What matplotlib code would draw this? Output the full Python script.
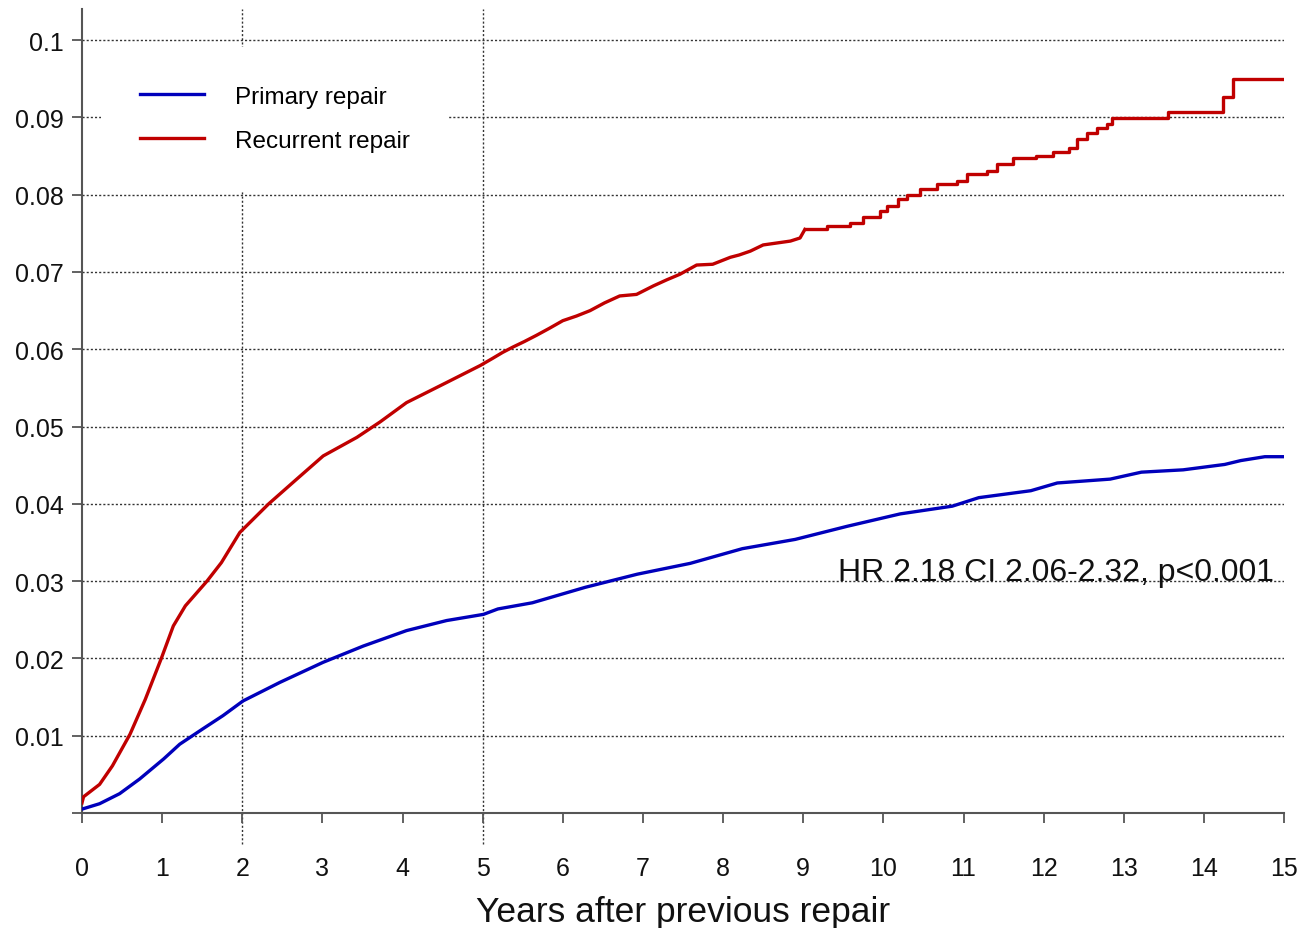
"""Cumulative incidence after previous repair: primary vs recurrent (KM-style curves)."""
import numpy as np
import matplotlib
matplotlib.use("Agg")
import matplotlib.pyplot as plt

plt.rcParams["font.family"] = ["Liberation Sans", "DejaVu Sans"]

# values (years, cumulative proportion)
prim_t = [0.0, 0.22, 0.47, 0.72, 1.02, 1.22, 1.51, 1.76, 2.01, 2.47, 3.01, 3.51,
          4.05, 4.55, 5.01, 5.19, 5.62, 6.28, 6.93, 7.59, 8.24, 8.90, 9.55,
          10.21, 10.86, 11.19, 11.84, 12.17, 12.83, 13.22, 13.74, 14.26, 14.46,
          14.76, 15.0]
prim_y = [0.0005, 0.0012, 0.0025, 0.0044, 0.0070, 0.0089, 0.0109, 0.0126,
          0.0145, 0.0169, 0.0195, 0.0216, 0.0236, 0.0249, 0.0257, 0.0264,
          0.0272, 0.0292, 0.0309, 0.0323, 0.0342, 0.0354, 0.0371, 0.0387,
          0.0397, 0.0408, 0.0417, 0.0427, 0.0432, 0.0441, 0.0444, 0.0451,
          0.0456, 0.0461, 0.0461]

# dense early part drawn as a line, sparse later part as KM steps
rec_t_early = [0.0, 0.02, 0.22, 0.38, 0.60, 0.79, 0.99, 1.14, 1.29, 1.56, 1.74,
               1.97, 2.33, 2.68, 3.01, 3.43, 3.72, 4.05, 4.55, 4.97, 5.12,
               5.25, 5.38, 5.52, 5.67, 5.83, 6.00, 6.17, 6.34, 6.52, 6.71,
               6.92, 7.13, 7.30, 7.46, 7.67, 7.87, 8.09, 8.20, 8.34, 8.50,
               8.84, 8.96, 9.02]
rec_y_early = [0.0013, 0.0021, 0.0037, 0.0061, 0.0102, 0.0147, 0.0200, 0.0242,
               0.0268, 0.0300, 0.0324, 0.0363, 0.0400, 0.0432, 0.0462, 0.0486,
               0.0506, 0.0531, 0.0557, 0.0579, 0.0588, 0.0596, 0.0603, 0.0610,
               0.0618, 0.0627, 0.0637, 0.0643, 0.0650, 0.0660, 0.0669, 0.0671,
               0.0682, 0.0690, 0.0697, 0.0709, 0.0710, 0.0719, 0.0722, 0.0727,
               0.0735, 0.0740, 0.0744, 0.0755]
rec_t_late = [9.02, 9.30, 9.58, 9.75, 9.96, 10.05, 10.18, 10.30, 10.46, 10.67,
              10.92, 11.04, 11.29, 11.42, 11.62, 11.91, 12.12, 12.32, 12.41,
              12.54, 12.66, 12.79, 12.85, 13.55, 14.24, 14.36, 15.0]
rec_y_late = [0.0755, 0.0760, 0.0764, 0.0771, 0.0779, 0.0786, 0.0794, 0.0800,
              0.0808, 0.0814, 0.0818, 0.0827, 0.0831, 0.0840, 0.0848, 0.0850,
              0.0855, 0.0861, 0.0872, 0.0880, 0.0886, 0.0891, 0.0899, 0.0907,
              0.0927, 0.0950, 0.0950]

x_ticks = list(range(0, 16))
y_ticks = [0.0, 0.01, 0.02, 0.03, 0.04, 0.05, 0.06, 0.07, 0.08, 0.09, 0.1]
y_labels = ["", "0.01", "0.02", "0.03", "0.04", "0.05", "0.06", "0.07",
            "0.08", "0.09", "0.1"]
ref_years = [2, 5]

BLUE, RED, AX = "#0000bb", "#c00000", "#555555"

fig = plt.figure(figsize=(13.01, 9.29), dpi=100)
ax = fig.add_axes([0.063, 0.1238, 0.924, 0.8652])
ax.set_xlim(0, 15)
ax.set_ylim(0, 0.104)

# dotted grid: every y tick, vertical only at 2 and 5 years (run below axis)
for v in y_ticks[1:]:
    ax.axhline(v, color="#333333", lw=1.0, ls=(0, (1.5, 1.5)), zorder=1)
for v in ref_years:
    ax.axvline(v, ymin=-0.039, ymax=1, color="#333333", lw=1.0,
               ls=(0, (1.5, 1.5)), zorder=1, clip_on=False)

ax.plot(prim_t, prim_y, color=BLUE, lw=2.4, label="Primary repair", zorder=3)
ax.plot(rec_t_early, rec_y_early, color=RED, lw=2.4, label="Recurrent repair",
        zorder=3)
ax.plot(rec_t_late, rec_y_late, color=RED, lw=2.4, drawstyle="steps-post",
        zorder=3)

ax.text(9.43, 0.0302, "HR 2.18 CI 2.06-2.32, p<0.001", fontsize=23,
        ha="left", va="baseline", color="#111111", zorder=4)

for s in ("top", "right"):
    ax.spines[s].set_visible(False)
for s in ("left", "bottom"):
    ax.spines[s].set_color(AX)
    ax.spines[s].set_linewidth(1.5)

ax.set_xticks(x_ticks)
ax.set_xticklabels([str(v) for v in x_ticks])
ax.set_yticks(y_ticks)
ax.set_yticklabels(y_labels)
ax.tick_params(axis="x", length=7, width=1.3, color=AX, pad=24,
               labelsize=18, labelcolor="#111111")
ax.tick_params(axis="y", length=7, width=1.3, color=AX, pad=6,
               labelsize=18, labelcolor="#111111")
ax.set_xlabel("Years after previous repair", fontsize=25.5, color="#111111",
              labelpad=11)

leg = ax.legend(loc="upper left", bbox_to_anchor=(0.016, 0.953), fontsize=17.5,
                frameon=True, fancybox=False, framealpha=1, facecolor="white",
                edgecolor="none", handlelength=2.65, handletextpad=1.25,
                labelspacing=0.9, borderpad=1.6, borderaxespad=0)
leg.set_zorder(5)

fig.savefig("out.png", dpi=100)
